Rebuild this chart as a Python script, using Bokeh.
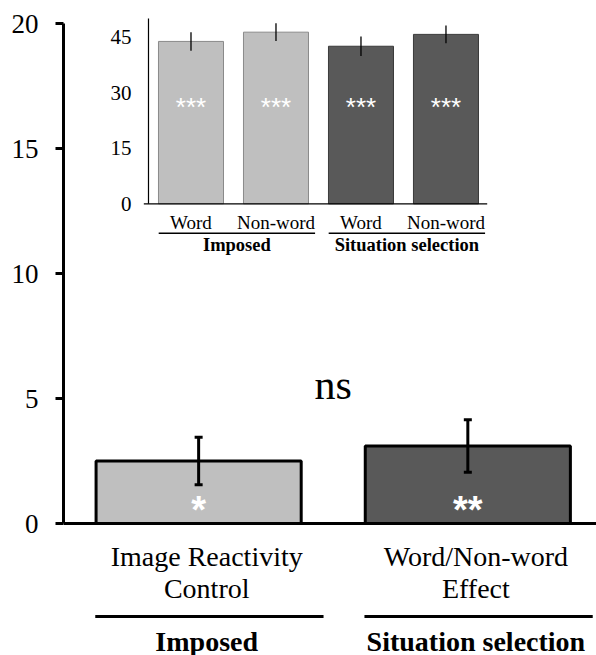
import numpy as np
from bokeh.plotting import figure
from bokeh.models import Range1d, ColumnDataSource, FixedTicker, Whisker, TeeHead, Span
from bokeh.core.properties import value
from bokeh.embed import file_html
from bokeh.resources import INLINE

# ---------------- data ----------------
main_categories = ["Image Reactivity\nControl", "Word/Non-word\nEffect"]
main_groups = ["Imposed", "Situation selection"]
main_values = [2.5, 3.1]
main_errors = [0.95, 1.05]
main_sig = ["*", "**"]
main_ticks = [0, 5, 10, 15, 20]
ns_label = "ns"

inset_labels = ["Word", "Non-word", "Word", "Non-word"]
inset_groups = ["Imposed", "Imposed", "Situation selection", "Situation selection"]
inset_values = [43.8, 46.3, 42.5, 45.7]
inset_errors = [2.5, 2.4, 2.6, 2.4]
inset_sig = ["***", "***", "***", "***"]
inset_ticks = [0, 15, 30, 45]
inset_axis_max = 50

# ---------------- styles ----------------
LIGHT, DARK = "#bfbfbf", "#595959"
LIGHT_EDGE, DARK_EDGE = "#8a8a8a", "#3a3a3a"
SERIF = "Liberation Serif"
SANS = "Liberation Sans"

p = figure(width=596, height=655, output_backend="svg", toolbar_location=None,
           x_range=Range1d(-0.002, 1.978), y_range=Range1d(-5.28, 20.92),
           x_axis_location=None, y_axis_location="left",
           min_border_left=63, min_border_right=0, min_border_top=0, min_border_bottom=0)
p.outline_line_color = None
p.grid.visible = False
p.background_fill_color = "white"
p.border_fill_color = "white"

ax = p.yaxis[0]
ax.ticker = FixedTicker(ticks=main_ticks)
ax.bounds = (min(main_ticks), max(main_ticks))
ax.axis_line_width = 3
ax.axis_line_color = "black"
ax.major_tick_line_width = 3
ax.major_tick_line_color = "black"
ax.major_tick_out = 8
ax.major_tick_in = 0
ax.minor_tick_line_color = None
ax.major_label_text_font = SERIF
ax.major_label_text_font_size = "27px"
ax.major_label_text_color = "black"
ax.major_label_standoff = 17

# ---------------- main bars ----------------
xm = np.arange(len(main_values)) + 0.5
mv = np.array(main_values)
me = np.array(main_errors)
src = ColumnDataSource(dict(x=xm, top=mv, lo=mv - me, hi=mv + me,
                            color=[LIGHT, DARK], label=main_categories,
                            sig=main_sig, group=main_groups))
p.vbar(x="x", top="top", bottom=0, width=0.762, fill_color="color",
       line_color="black", line_width=3, source=src)
p.add_layout(Span(location=0, dimension="width", line_color="black", line_width=3))
p.add_layout(Whisker(source=src, base="x", upper="hi", lower="lo", level="overlay",
                     line_color="black", line_width=3,
                     upper_head=TeeHead(size=8, line_width=3, line_color="black"),
                     lower_head=TeeHead(size=8, line_width=3, line_color="black")))

p.text(x=xm, y=[0.53] * len(xm), text=main_sig, text_color="white",
       text_font=value(SANS), text_font_style="bold", text_font_size=value("38px"),
       text_align="center", text_baseline="alphabetic")

p.text(x=xm + 0.03, y=[-0.68] * len(xm), text=main_categories, text_color="black",
       text_font=value(SERIF), text_font_size=value("28px"), text_line_height=1.06,
       text_align="center", text_baseline="top")

p.segment(x0=xm - 0.384, x1=xm + 0.464, y0=[-3.72] * len(xm), y1=[-3.72] * len(xm),
          line_color="black", line_width=3)
p.text(x=xm + 0.03, y=[-4.08] * len(xm), text=main_groups, text_color="black",
       text_font=value(SERIF), text_font_style="bold", text_font_size=value("28px"),
       text_align="center", text_baseline="top")

p.text(x=[xm.mean()], y=[5.56], text=[ns_label], text_color="black",
       text_font=value(SERIF), text_font_size=value("42px"),
       text_align="center", text_baseline="alphabetic")

# ---------------- inset ----------------
p.extra_x_ranges = {"ix": Range1d(-1.0, 5.271)}
p.extra_y_ranges = {"iy": Range1d(-121.85, 54.84)}
xi = np.arange(len(inset_values)) + 0.5
iv = np.array(inset_values)
ie = np.array(inset_errors)
is_light = [g == main_groups[0] for g in inset_groups]
isrc = ColumnDataSource(dict(x=xi, top=iv, lo=iv - ie, hi=iv + ie,
                             fill=[LIGHT if l else DARK for l in is_light],
                             edge=[LIGHT_EDGE if l else DARK_EDGE for l in is_light],
                             label=inset_labels, sig=inset_sig))
kw = dict(x_range_name="ix", y_range_name="iy")
p.vbar(x="x", top="top", bottom=0, width=0.765, fill_color="fill", line_color="edge",
       line_width=1, source=isrc, **kw)
p.segment(x0="x", x1="x", y0="lo", y1="hi", line_color="black", line_width=1.3,
          source=isrc, **kw)
# inset axes
p.segment(x0=[0], x1=[0], y0=[0], y1=[inset_axis_max], line_color="black", line_width=1.2, **kw)
p.segment(x0=[-0.055], x1=[len(xi) - 0.015], y0=[0], y1=[0], line_color="black",
          line_width=1.2, **kw)
p.text(x=[0] * len(inset_ticks), y=inset_ticks, text=[str(t) for t in inset_ticks],
       x_offset=-17, text_color="black", text_font=value(SERIF),
       text_font_size=value("21px"), text_align="right", text_baseline="middle", **kw)
p.text(x="x", y=26.0, text="sig", text_color="white", text_font=value(SANS),
       text_font_size=value("26px"), text_align="center", text_baseline="alphabetic",
       source=isrc, **kw)
p.text(x="x", y=-2.1, text="label", text_color="black", text_font=value(SERIF),
       text_font_size=value("19px"), text_align="center", text_baseline="top",
       source=isrc, **kw)
ig_names = list(dict.fromkeys(inset_groups))
ig_centers = np.array([xi[[g == n for g in inset_groups]].mean() for n in ig_names])
p.segment(x0=ig_centers - 0.88, x1=ig_centers + 0.96, y0=[-7.97] * 2, y1=[-7.97] * 2,
          line_color="black", line_width=1.5, **kw)
p.text(x=ig_centers + 0.04, y=[-8.4] * 2, text=ig_names, text_color="black",
       text_font=value(SERIF), text_font_style="bold", text_font_size=value("18.5px"),
       text_align="center", text_baseline="top", **kw)

open("out.html", "w").write(file_html(p, INLINE))
